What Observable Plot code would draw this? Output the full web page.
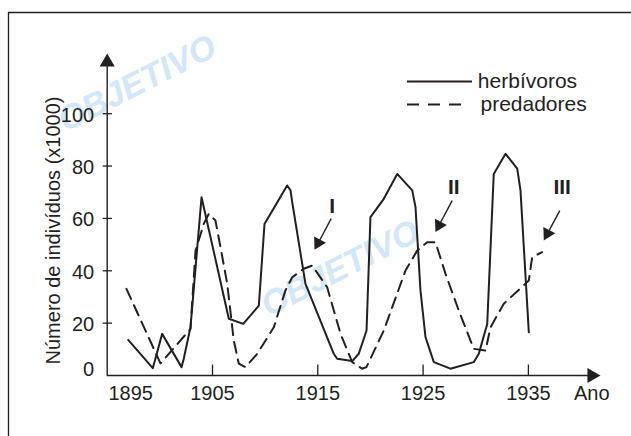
<!DOCTYPE html>
<html><head><meta charset="utf-8">
<script src="https://cdn.jsdelivr.net/npm/d3@7"></script>
<script src="https://cdn.jsdelivr.net/npm/@observablehq/plot@0.6"></script>
<style>
body{margin:0;background:#fff}
svg{display:block}
</style>
</head><body><div id="chart"></div>
<script>
// Herbivores (solid line)
const herbYears = [1896.99,1899.33,1900.22,1902.06,1902.27,1902.91,1903.96,1906.55,1907.92,1909.40,1909.94,1912.09,1912.41,1912.57,1913.83,1916.52,1916.84,1918.27,1918.89,1919.63,1920.00,1921.27,1922.54,1923.97,1924.28,1924.75,1925.23,1926.02,1927.60,1929.81,1930.29,1931.09,1931.71,1932.83,1933.94,1934.25,1935.04];
const herbValues = [13.6,2.8,15.9,3.2,6.4,18.4,68.1,21.7,19.7,26.7,57.9,72.6,70.7,66.2,35.0,8.3,6.4,5.5,8.3,17.2,60.5,67.5,77.0,70.7,64.3,32.5,14.6,5.1,2.6,5.1,8.3,19.7,77.0,84.7,79.0,70.7,16.5];
// Predators (dashed line)
const predYears = [1896.83,1900.06,1902.91,1903.39,1904.17,1904.65,1905.28,1905.76,1906.40,1907.02,1907.50,1908.13,1909.25,1910.82,1911.93,1912.57,1913.67,1914.47,1915.89,1917.16,1918.27,1919.22,1919.62,1921.27,1923.33,1924.44,1925.39,1926.18,1927.13,1928.39,1929.81,1930.93,1931.40,1932.66,1935.04,1935.36,1936.31];
const predValues = [33.1,4.6,17.8,47.7,57.9,61.8,59.2,49.0,35.0,13.4,4.5,3.2,8.3,18.4,32.5,37.5,40.8,42.0,33.7,15.9,5.1,2.6,3.2,17.2,40.1,47.7,50.9,50.9,38.8,24.8,10.2,9.5,18.4,27.4,36.3,45.2,47.1];

const seriesNames = ["herbívoros", "predadores"];
const xTicks = [1905, 1915, 1925, 1935];
const xFirstLabel = "1895";
const yTicks = [0, 20, 40, 60, 80, 100];
const xAxisLabel = "Ano";
const yAxisLabel = "Número de indivíduos (x1000)";

// Annotations I, II, III
const annotLabels = ["I", "II", "III"];
const annotX = [1916.37, 1927.92, 1938.21];
const annotY = [64.7, 71.9, 71.9];
const arrowStartX = [1916.27, 1927.76, 1937.98];
const arrowStartY = [59.9, 66.8, 63.0];
const arrowHeadX = [1915.04, 1926.52, 1936.81];
const arrowHeadY = [50.6, 57.4, 54.2];
const arrowAngle = [208.7, 207.8, 208.1];

const watermark = "OBJETIVO";

const ink = "#231f20";
const font = "'Liberation Sans', Arial, Helvetica, sans-serif";

const herb = herbYears.map((x, i) => ({x, y: herbValues[i]}));
const pred = predYears.map((x, i) => ({x, y: predValues[i]}));
const annots = annotLabels.map((t, i) => ({t, x: annotX[i], y: annotY[i], x1: arrowStartX[i], y1: arrowStartY[i], x2: arrowHeadX[i], y2: arrowHeadY[i], a: arrowAngle[i]}));

const x0 = 1895, xEnd = 1941.02, yEnd = 119.7;

const chart = Plot.plot({
  width: 631,
  height: 436,
  marginLeft: 106.7,
  marginRight: 29.4,
  marginTop: 53,
  marginBottom: 61,
  style: {fontFamily: font, color: ink, background: "#fff"},
  x: {domain: [1895, 1942], axis: null},
  y: {domain: [0, 123], axis: null},
  marks: [
    // watermark
    Plot.text([watermark, watermark], {
      frameAnchor: "top-left", textAnchor: "middle", lineAnchor: "middle",
      text: d => d,
      fill: "#d2e7f9", fontSize: 34, fontWeight: "bold", fontStyle: "italic", rotate: -27
    }),
    // axes
    Plot.ruleX([x0], {y1: 0, y2: yEnd, stroke: ink, strokeWidth: 1.4}),
    Plot.ruleY([0], {x1: x0, x2: xEnd, stroke: ink, strokeWidth: 1.4}),
    Plot.dot([{x: x0, y: yEnd, r: 0}, {x: xEnd, y: 0, r: 90}], {x: "x", y: "y", rotate: "r", symbol: "triangle", r: 5.6, fill: ink, stroke: "none"}),
    Plot.ruleY(yTicks.filter(v => v > 0), {x1: 1894.62, x2: 1895.5, stroke: ink, strokeWidth: 1.3}),
    Plot.ruleX(xTicks, {y1: 0, y2: 4, stroke: ink, strokeWidth: 1.3}),
    Plot.text(yTicks.filter(v => v > 0), {x: x0, y: d => d, text: d => String(d), textAnchor: "end", dx: -13, dy: 1.5, fontSize: 20, fill: ink}),
    Plot.text(yTicks.filter(v => v === 0), {x: x0, y: d => d, text: d => String(d), textAnchor: "end", dx: -13, dy: -6, fontSize: 20, fill: ink}),
    Plot.text(xTicks, {x: d => d, y: 0, text: d => String(d), dy: 18, fontSize: 20, fill: ink}),
    Plot.text([xFirstLabel], {x: x0, y: 0, text: d => d, dx: 23.5, dy: 18, fontSize: 20, fill: ink}),
    Plot.text([xAxisLabel], {x: xEnd, y: 0, text: d => d, dy: 18, fontSize: 20, fill: ink}),
    Plot.text([yAxisLabel], {frameAnchor: "left", textAnchor: "middle", lineAnchor: "middle", text: d => d, rotate: -90, dx: -54, dy: 16, fontSize: 20, fill: ink}),
    // data
    Plot.line(pred, {x: "x", y: "y", stroke: ink, strokeWidth: 2, strokeDasharray: "11,7"}),
    Plot.line(herb, {x: "x", y: "y", stroke: ink, strokeWidth: 2}),
    // annotations
    Plot.link(annots, {x1: "x1", y1: "y1", x2: "x2", y2: "y2", stroke: ink, strokeWidth: 1.4}),
    Plot.dot(annots, {x: "x2", y: "y2", rotate: "a", symbol: "triangle", r: 5, fill: ink, stroke: "none"}),
    Plot.text(annots, {x: "x", y: "y", text: "t", fontSize: 21, fontWeight: "bold", fill: ink}),
    // legend
    Plot.ruleY([112.3], {x1: 1923.52, x2: 1929.69, stroke: ink, strokeWidth: 2}),
    Plot.ruleY([103.5], {x1: 1923.52, x2: 1929.3, stroke: ink, strokeWidth: 2, strokeDasharray: "12,9"}),
    Plot.text([{t: seriesNames[0], y: 112.3, x: 1930.2}, {t: seriesNames[1], y: 103.5, x: 1930.45}], {x: "x", y: "y", text: "t", textAnchor: "start", fontSize: 21, fill: ink})
  ]
});

// position watermark copies (offsets from the frame's top-left corner)
const wmPos = [[30, 30], [233, 215]];
d3.select(chart).selectAll("text").filter(function() { return this.textContent === watermark; })
  .each(function(d, i) {
    const p = wmPos[i];
    const t = d3.select(this).attr("transform") || "";
    d3.select(this).attr("transform", `translate(${p[0]},${p[1]}) ` + t);
  });

d3.select(chart).append("path")
  .attr("d", "M8.5,436V12.5H631")
  .attr("fill", "none").attr("stroke", ink).attr("stroke-width", 1.3);

document.getElementById("chart").appendChild(chart);
</script>
</body></html>
